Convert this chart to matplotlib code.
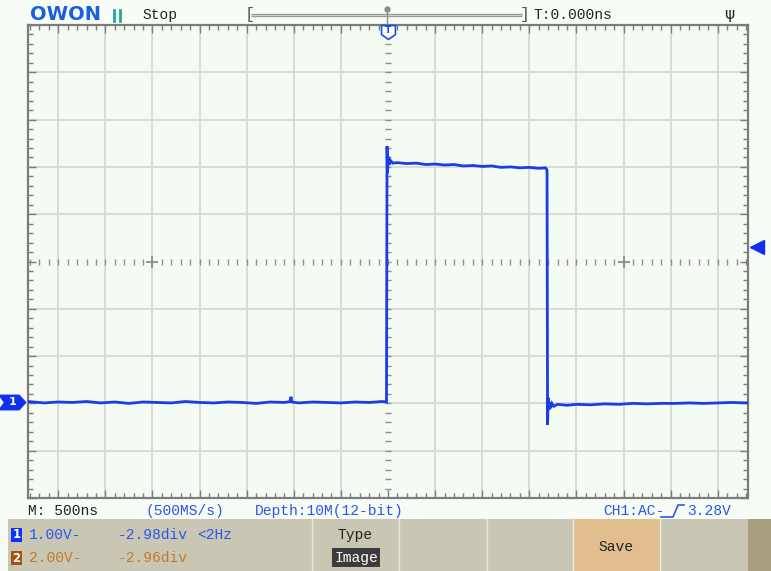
import matplotlib
matplotlib.use("Agg")
import matplotlib.pyplot as plt
import matplotlib.transforms as mtrans
from matplotlib.patches import Rectangle
from matplotlib.path import Path
import numpy as np

time_ns = [-3822, -3650, -3500, -3350, -3200, -3050, -2900, -2750, -2600, -2450,
           -2300, -2150, -2000, -1850, -1700, -1550, -1400, -1250, -1100, -1040,
           -1030, -1020, -950, -800, -650, -500, -350, -200, -60, -16,
           -10, -6, 0, 10, 25, 50, 100, 200, 300, 400,
           500, 600, 700, 800, 900, 1000, 1100, 1200, 1300, 1400,
           1500, 1600, 1670, 1682, 1688, 1694, 1700, 1708, 1716, 1725,
           1740, 1760, 1800, 1900, 2000, 2150, 2300, 2450, 2600, 2750,
           2900, 3050, 3200, 3350, 3500, 3650, 3822]
ch1_volts = [0.02, -0.01, 0.01, 0.00, 0.02, -0.01, 0.01, -0.02, 0.01, 0.00,
             -0.01, 0.02, 0.00, -0.01, 0.01, 0.00, -0.02, 0.01, 0.00, 0.02,
             0.12, 0.01, -0.01, 0.01, 0.00, -0.01, 0.01, 0.00, 0.02, 0.01,
             5.42, 4.85, 5.20, 5.02, 5.12, 5.06, 5.07, 5.05, 5.06, 5.03,
             5.04, 5.02, 5.03, 5.00, 5.01, 4.99, 5.00, 4.97, 4.98, 4.96,
             4.97, 4.95, 4.96, 4.94, 4.90, -0.47, 0.10, -0.15, 0.00, -0.12,
             -0.02, -0.08, -0.04, -0.06, -0.04, -0.05, -0.03, -0.04, -0.02, -0.03,
             -0.02, -0.02, -0.01, -0.02, -0.01, 0.00, -0.01]

time_per_div_ns = 500
volts_per_div = 1.00
ch1_offset_div = -2.98
trigger_level_v = 3.28
h_divs_half = 7.643      # visible half width in divisions
v_divs_half = 5

top_labels = {"stop": "Stop", "trig_time": "T:0.000ns"}
bottom_labels = ["M: 500ns", "(500MS/s)", "Depth:10M(12-bit)", "CH1:AC-", "3.28V"]
ch1_info = ["1.00V-", "-2.98div", "<2Hz"]
ch2_info = ["2.00V-", "-2.96div"]
menu_labels = ["Type", "Image", "Save"]

# ---------------- styling ----------------
W, H = 771, 571
BLUE = "#1a3de8"
TXT_BLUE = "#2a55ee"
CH2_COL = "#c07a30"
MONO = "Liberation Mono"

fig = plt.figure(figsize=(W / 100, H / 100), dpi=100)
fig.patch.set_facecolor("#f8fcf7")

# main scope axes (pixel box 28..748 x 25..498)
ax = fig.add_axes([28 / W, (H - 498) / H, 720 / W, 473 / H], zorder=2)
ax.set_facecolor("#f4fbf3")
center_v = -ch1_offset_div * volts_per_div
ax.set_xlim(-h_divs_half * time_per_div_ns, h_divs_half * time_per_div_ns)
ax.set_ylim(center_v - v_divs_half * volts_per_div, center_v + v_divs_half * volts_per_div)

# grid
grid_x = [k * time_per_div_ns for k in range(-7, 8) if k != 0]
grid_y = [center_v + k * volts_per_div for k in range(-4, 5) if k != 0]
for gx in grid_x:
    ax.axvline(gx, color="#d8d8d6", lw=1.3, zorder=0.5)
for gy in grid_y:
    ax.axhline(gy, color="#d8d8d6", lw=1.3, zorder=0.5)

# dotted centre axes
minor_x = np.arange(-38, 39) * time_per_div_ns / 5
minor_y = center_v + np.arange(-25, 26) * volts_per_div / 5
ax.plot(minor_x, [center_v] * len(minor_x), ls="none", marker="|", ms=4,
        mew=1, color="#8e8e8e", zorder=0.6)
ax.plot([0] * len(minor_y), minor_y, ls="none", marker="_", ms=4,
        mew=1, color="#8e8e8e", zorder=0.6)
ax.plot([-5 * time_per_div_ns, 5 * time_per_div_ns], [center_v, center_v],
        ls="none", marker="+", ms=9, mew=1.3, color="#8e8e8e", zorder=0.6)

# border ticks
ax.set_xticks(np.arange(-7, 8) * time_per_div_ns)
ax.set_xticks(minor_x, minor=True)
ax.set_yticks(center_v + np.arange(-5, 6) * volts_per_div)
ax.set_yticks(minor_y, minor=True)
ax.tick_params(which="both", direction="in", top=True, right=True, bottom=True, left=True,
               labelbottom=False, labelleft=False, color="#7c7c7c")
ax.tick_params(which="major", length=6, width=1)
ax.tick_params(which="minor", length=3.5, width=1)
for s in ax.spines.values():
    s.set_color("#7c7c7c")
    s.set_linewidth(1.6)

# trace
ax.plot(time_ns, ch1_volts, color=BLUE, lw=2.0, zorder=3, solid_joinstyle="miter")

# CH1 ground marker (left) and trigger level marker (right)
blend_y = mtrans.blended_transform_factory(ax.transAxes, ax.transData)
ch1_marker = Path([(-1, -0.55), (0.5, -0.55), (1, 0), (0.5, 0.55), (-1, 0.55), (-0.6, 0), (-1, -0.55)],
                  [Path.MOVETO] + [Path.LINETO] * 5 + [Path.CLOSEPOLY])
ax.plot([-0.022], [0.0], marker=ch1_marker, ms=19, color="#1030f0", mec="#1030f0",
        transform=blend_y, clip_on=False, zorder=5)
ax.text(-0.021, 0.0, "1", color="white", fontsize=8, fontweight="bold", ha="center",
        va="center", transform=blend_y, clip_on=False, zorder=6, family="DejaVu Sans")
ax.plot([1.0125], [trigger_level_v], marker="<", ms=10, color="#1030f0",
        transform=blend_y, clip_on=False, zorder=5)

# trigger position "T" marker at top
blend_x = mtrans.blended_transform_factory(ax.transData, ax.transAxes)
shield = Path([(-1, 1), (1, 1), (1, -0.3), (0, -1), (-1, -0.3), (-1, 1)],
              [Path.MOVETO] + [Path.LINETO] * 4 + [Path.CLOSEPOLY])
ax.plot([0], [0.985], marker=shield, ms=10, mfc="white", mec="#1a50e0", mew=1.2,
        transform=blend_x, clip_on=False, zorder=6)
ax.text(0, 0.988, "T", color="#1a50e0", fontsize=6.5, fontweight="bold", ha="center",
        va="center", transform=blend_x, zorder=7, family="DejaVu Sans")

# ---------------- overlay in pixel coordinates ----------------
fg = fig.add_axes([0, 0, 1, 1], zorder=1)
fg.set_xlim(0, W)
fg.set_ylim(H, 0)
fg.axis("off")
fg.patch.set_alpha(0)

# top bar
fg.text(30, 15, "OWON", color="#1a5fe0", fontsize=14, fontweight="heavy",
        family="DejaVu Sans", va="center", ha="left")
fg.plot([114, 114], [10, 21], color="#20a898", lw=2)
fg.plot([120, 120], [10, 21], color="#20a898", lw=2)
fg.text(142, 15, top_labels["stop"], family=MONO, fontsize=10.5, color="#222222",
        va="center", ha="left")
fg.text(245, 15, "[", family=MONO, fontsize=12, color="#555555", va="center", ha="left")
fg.text(520, 15, "]", family=MONO, fontsize=12, color="#555555", va="center", ha="left")
fg.plot([251, 522], [15, 15], color="#9a9a9a", lw=2.4, solid_capstyle="butt")
fg.plot([251, 522], [15, 15], color="#d8d8d8", lw=0.6, solid_capstyle="butt")
fg.plot([387, 387], [9, 25], color="#8a8a8a", lw=1)
fg.plot([387], [9], marker="o", ms=3.5, color="#8a8a8a")
fg.text(533, 15, top_labels["trig_time"], family=MONO, fontsize=10.5, color="#222222",
        va="center", ha="left")
fg.text(729, 14, "ψ", family="DejaVu Sans", fontsize=11, color="#222222",
        va="center", ha="center")

# bottom status row
fg.text(28, 511, bottom_labels[0], family=MONO, fontsize=10.5, color="#222222", va="center")
fg.text(145, 511, bottom_labels[1], family=MONO, fontsize=10.5, color=TXT_BLUE, va="center")
fg.text(255, 511, bottom_labels[2], family=MONO, fontsize=10.5, color=TXT_BLUE, va="center")
fg.text(603, 511, bottom_labels[3], family=MONO, fontsize=10.5, color=TXT_BLUE, va="center")
fg.plot([661, 673, 676, 678, 684], [517, 517, 510, 505, 505], color=TXT_BLUE, lw=1.2)
fg.text(687, 511, bottom_labels[4], family=MONO, fontsize=10.5, color=TXT_BLUE, va="center")

# bottom menu panel
fg.add_patch(Rectangle((8, 519), W - 8, H - 519, facecolor="#c9c7b3", edgecolor="none"))
fg.add_patch(Rectangle((573, 519), 87, H - 519, facecolor="#e2be8e", edgecolor="none"))
fg.add_patch(Rectangle((748, 519), W - 748, H - 519, facecolor="#a89e80", edgecolor="none"))
for sx in [312, 399, 487, 573, 660]:
    fg.plot([sx, sx], [519, H], color="#ecebe2", lw=1)

# channel info
fg.add_patch(Rectangle((11, 528), 11, 14, facecolor="#1030ff", edgecolor="none"))
fg.text(16.5, 535, "1", color="white", fontsize=8.5, fontweight="bold", ha="center",
        va="center", family="DejaVu Sans")
fg.text(29, 535, ch1_info[0], family=MONO, fontsize=10.5, color=TXT_BLUE, va="center")
fg.text(118, 535, ch1_info[1], family=MONO, fontsize=10.5, color=TXT_BLUE, va="center")
fg.text(197, 535, ch1_info[2], family=MONO, fontsize=10.5, color=TXT_BLUE, va="center")
fg.add_patch(Rectangle((11, 551), 11, 14, facecolor="#a8520e", edgecolor="none"))
fg.text(16.5, 558, "2", color="white", fontsize=8.5, fontweight="bold", ha="center",
        va="center", family="DejaVu Sans")
fg.text(29, 558, ch2_info[0], family=MONO, fontsize=10.5, color=CH2_COL, va="center")
fg.text(118, 558, ch2_info[1], family=MONO, fontsize=10.5, color=CH2_COL, va="center")

# menu buttons
fg.text(355, 535, menu_labels[0], family=MONO, fontsize=10.5, color="#222222",
        va="center", ha="center")
fg.add_patch(Rectangle((332, 548), 48, 19, facecolor="#3c3c3c", edgecolor="none"))
fg.text(356, 558, menu_labels[1], family=MONO, fontsize=10.5, color="white",
        va="center", ha="center")
fg.text(616, 547, menu_labels[2], family=MONO, fontsize=10.5, color="#222222",
        va="center", ha="center")

fig.savefig("out.png", dpi=100, facecolor=fig.get_facecolor())
